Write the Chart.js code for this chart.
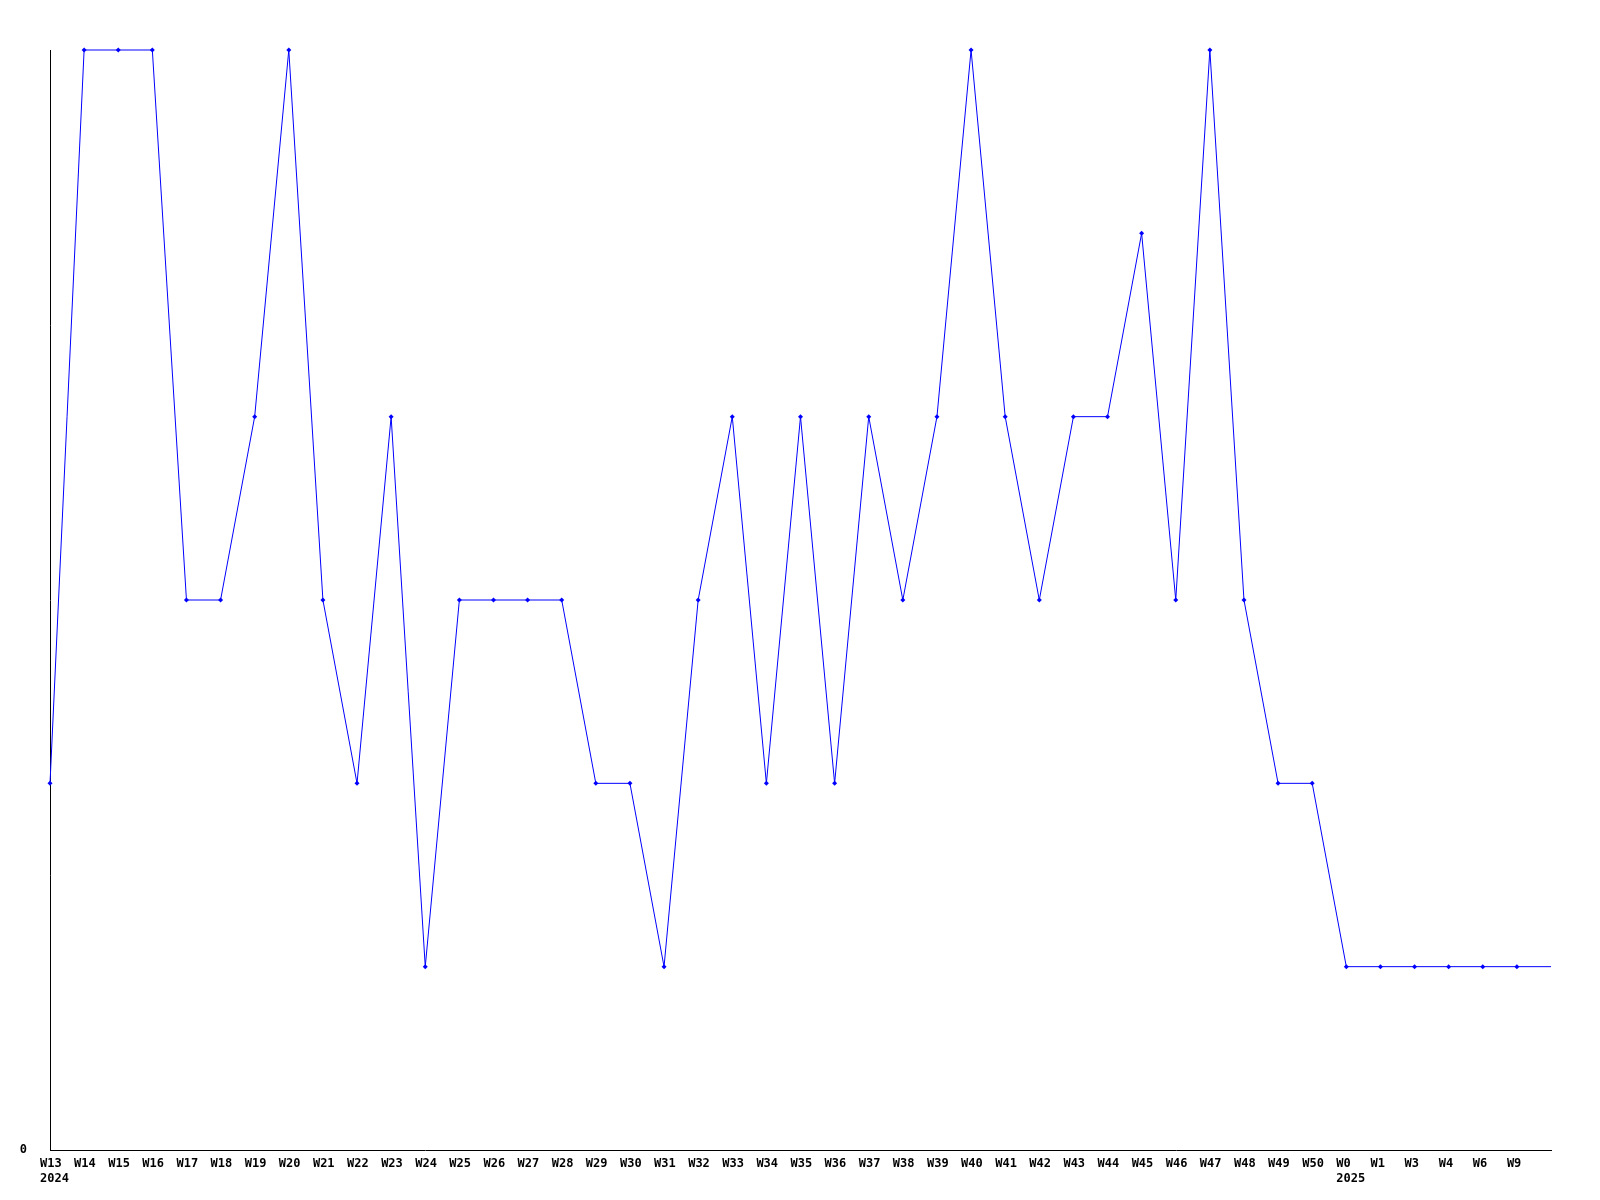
<!DOCTYPE html>
<html>
<head>
<meta charset="utf-8">
<script src="https://cdn.jsdelivr.net/npm/chart.js@4"></script>
<style>
  html, body { margin: 0; padding: 0; background: #fff; }
  #wrap { width: 1600px; height: 1200px; }
</style>
</head>
<body>
<div id="wrap"><canvas id="weekChart" width="1600" height="1200"></canvas></div>
<script>
// weeks along the x axis (last one has no label, line runs to the edge)
const weeks = ["W13","W14","W15","W16","W17","W18","W19","W20","W21","W22","W23","W24","W25","W26","W27","W28","W29","W30","W31","W32","W33","W34","W35","W36","W37","W38","W39","W40","W41","W42","W43","W44","W45","W46","W47","W48","W49","W50","W0","W1","W3","W4","W6","W9",""];
const years = {"W13": "2024", "W0": "2025"};
const counts = [2,6,6,6,3,3,4,6,3,2,4,1,3,3,3,3,2,2,1,3,4,2,4,2,4,3,4,6,4,3,4,4,5,3,6,3,2,2,1,1,1,1,1,1,1];
const yMax = 6;

const labels = weeks.map((w, i) => (i === 0 || w === "W0") ? [w, years[w]] : w);
const radii = weeks.map(w => w === "" ? 0 : 2.5);

Chart.defaults.font.family = "'DejaVu Sans Mono', monospace";
Chart.defaults.font.size = 12;
Chart.defaults.font.weight = "bold";
Chart.defaults.color = "#000";

new Chart(document.getElementById("weekChart"), {
  type: "line",
  data: {
    labels: labels,
    datasets: [{
      data: counts,
      borderColor: "#0000ff",
      backgroundColor: "#0000ff",
      borderWidth: 1,
      tension: 0,
      clip: false,
      pointStyle: "rectRot",
      pointRadius: radii,
      pointBorderWidth: 0
    }]
  },
  options: {
    responsive: false,
    animation: false,
    layout: { padding: { top: 50, right: 49, left: 0, bottom: 0 } },
    plugins: { legend: { display: false }, tooltip: { enabled: false } },
    scales: {
      x: {
        offset: false,
        grid: { display: false },
        border: { display: true, color: "#000", width: 1 },
        ticks: { autoSkip: false, maxRotation: 0, align: "start", labelOffset: -10, padding: -1 },
        afterFit: s => { s.height = 50; }
      },
      y: {
        min: 0,
        max: yMax,
        grid: { display: false },
        border: { display: true, color: "#000", width: 1 },
        ticks: { stepSize: 1, padding: 15, callback: v => v === 0 ? "0" : "" },
        afterFit: s => { s.width = 50; }
      }
    }
  }
});
</script>
</body>
</html>
